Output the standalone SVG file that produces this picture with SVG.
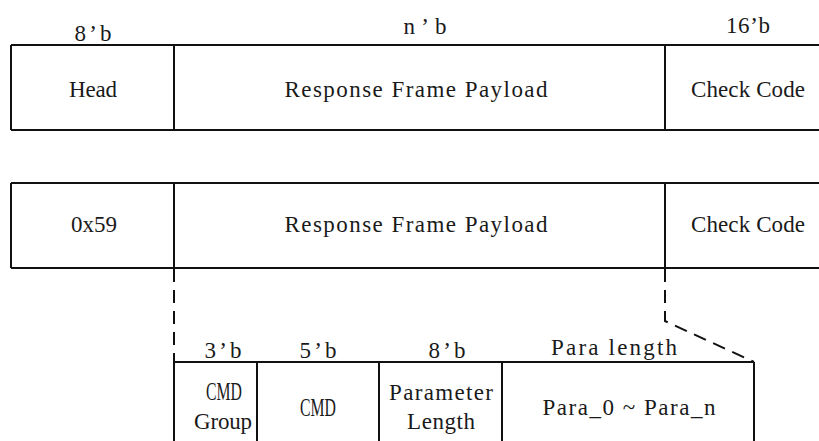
<svg xmlns="http://www.w3.org/2000/svg" width="819" height="441" viewBox="0 0 819 441">
  <style>
    .frame { fill: none; stroke: #111; stroke-width: 2; }
    .dash { fill: none; stroke: #111; stroke-width: 2; stroke-dasharray: 13 8; }
    text { font-family: "Liberation Serif", "DejaVu Serif", serif; font-size: 23px; fill: #1a1a1a; text-anchor: middle; }
    .narrow { font-size: 25px; }
  </style>
  <rect width="819" height="441" fill="#fff"/>

  <!-- Frame 1: generic response frame -->
  <g id="frame1">
    <path class="frame" d="M11 45H819M11 130H819M11 45V130M174 45V130M665 45V130"/>
    <g id="f1-head">
      <text x="93" y="41" textLength="37" lengthAdjust="spacing">8’b</text>
      <text x="93" y="97" textLength="48" lengthAdjust="spacing">Head</text>
    </g>
    <g id="f1-payload">
      <text x="425" y="34" textLength="43" lengthAdjust="spacing">n’b</text>
      <text x="416" y="97" textLength="263" lengthAdjust="spacing">Response Frame Payload</text>
    </g>
    <g id="f1-check">
      <text x="748" y="33" textLength="44" lengthAdjust="spacing">16’b</text>
      <text x="748" y="97" textLength="114" lengthAdjust="spacing">Check Code</text>
    </g>
  </g>

  <!-- Frame 2: response frame with fixed head -->
  <g id="frame2">
    <path class="frame" d="M11 183H819M11 268H819M11 183V268M174 183V268M665 183V268"/>
    <g id="f2-head">
      <text x="94" y="232" textLength="46" lengthAdjust="spacing">0x59</text>
    </g>
    <g id="f2-payload">
      <text x="416" y="232" textLength="263" lengthAdjust="spacing">Response Frame Payload</text>
    </g>
    <g id="f2-check">
      <text x="748" y="232" textLength="114" lengthAdjust="spacing">Check Code</text>
    </g>
  </g>

  <!-- Expansion guides from payload to its fields -->
  <g id="connectors">
    <path class="dash" d="M174 269V362"/>
    <path class="dash" d="M665 269V321L754 362"/>
  </g>

  <!-- Payload field breakdown -->
  <g id="payload">
    <path class="frame" d="M174 362H754M174 362V441M257 362V441M379 362V441M502 362V441M754 362V441"/>
    <g id="p-group">
      <text x="223" y="358" textLength="37" lengthAdjust="spacing">3’b</text>
      <text class="narrow" transform="translate(224 400) scale(0.63 1)">CMD</text>
      <text x="223" y="429" textLength="58" lengthAdjust="spacing">Group</text>
    </g>
    <g id="p-cmd">
      <text x="318" y="358" textLength="37" lengthAdjust="spacing">5’b</text>
      <text class="narrow" transform="translate(318 416) scale(0.63 1)">CMD</text>
    </g>
    <g id="p-len">
      <text x="447" y="358" textLength="37" lengthAdjust="spacing">8’b</text>
      <text x="441" y="400" textLength="104" lengthAdjust="spacing">Parameter</text>
      <text x="441" y="429" textLength="68" lengthAdjust="spacing">Length</text>
    </g>
    <g id="p-para">
      <text x="614" y="355" textLength="126" lengthAdjust="spacing">Para length</text>
      <text x="629" y="415" textLength="173" lengthAdjust="spacing">Para_0 ~ Para_n</text>
    </g>
  </g>
</svg>
